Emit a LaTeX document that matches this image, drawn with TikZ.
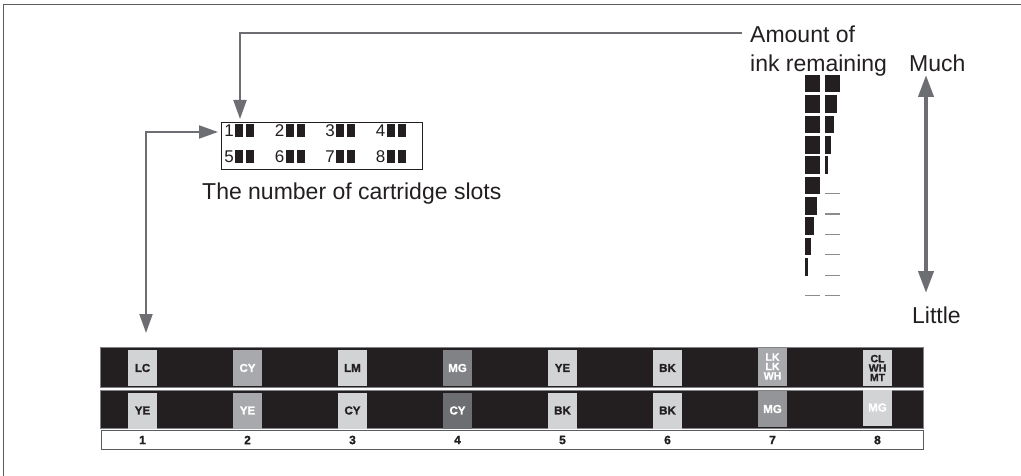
\documentclass[tikz,border=0pt]{standalone}
\usepackage{fontspec}
\setmainfont{Liberation Sans}
\newfontfamily\heavyfont[FakeBold=1.2]{Liberation Sans Bold}
\usetikzlibrary{arrows.meta}
\definecolor{ink}{HTML}{231F20}
\definecolor{linegray}{HTML}{6D6E71}
\definecolor{framegray}{HTML}{5A5B5E}
\definecolor{dashgray}{HTML}{8A8C8F}
\definecolor{lightbox}{HTML}{D1D3D4}
\definecolor{medbox}{HTML}{A7A9AC}
\definecolor{darkbox}{HTML}{808285}
\definecolor{darkerbox}{HTML}{6D6E71}
\definecolor{mgbox}{HTML}{939598}
\definecolor{textcol}{HTML}{231F20}
\tikzset{
  biglabel/.style={font=\fontsize{23}{29}\selectfont, text=textcol, inner sep=0pt},
  digit/.style={font=\fontsize{17}{17}\selectfont, text=textcol, inner sep=0pt},
  connone/.style={draw=linegray, line width=2pt, -{Triangle[length=19pt,width=13pt]}},
  conntwo/.style={draw=linegray, line width=2pt, {Triangle[length=19pt,width=13pt]}-{Triangle[length=19pt,width=13pt]}},
  gaugearrow/.style={draw=linegray, line width=4pt, {Triangle[length=22pt,width=15pt]}-{Triangle[length=22pt,width=15pt]}},
  barbox/.style={fill=ink, draw=darkbox, line width=1pt, anchor=north west, inner sep=0pt, minimum width=823pt},
  cbox/.style={minimum width=29pt, minimum height=36pt, inner sep=0pt, font=\fontsize{11.5}{11.5}\selectfont\heavyfont, align=center},
  cboxthree/.style={cbox, minimum height=38pt, font=\fontsize{10.5}{9.4}\selectfont\heavyfont},
  numlabel/.style={font=\fontsize{12}{12}\selectfont\heavyfont, text=textcol, inner sep=0pt}
}
\begin{document}
\begin{tikzpicture}[x=1pt,y=-1pt]
\useasboundingbox (0,0) rectangle (1021,476);
% frame
\draw[framegray, line width=1.6pt] (3.5,476) -- (3.5,4.5) -- (1021,4.5);

% labels
\node[biglabel, anchor=base west] (amount1) at (750,43) {Amount of};
\node[biglabel, anchor=base west] (amount2) at (750,72) {ink remaining};
\node[biglabel, anchor=base west] (much) at (909,72) {Much};
\node[biglabel, anchor=base west] (little) at (912,323) {Little};
\node[biglabel, anchor=base west] (slotcaption) at (202,200) {The number of cartridge slots};

% slot box
\node[draw=ink, line width=1.2pt, minimum width=201pt, minimum height=47pt, anchor=north west, inner sep=0pt] (slots) at (221,122) {};
\foreach \i/\dx in {1/0,2/50.5,3/101,4/151.5}{
  \node[digit] (d\i) at (229+\dx,130.5) {\i};
  \fill[ink] (235+\dx,124) rectangle (243+\dx,137);
  \fill[ink] (246+\dx,124) rectangle (254+\dx,137);
}
\foreach \i/\dx in {5/0,6/50.5,7/101,8/151.5}{
  \node[digit] (d\i) at (229+\dx,157) {\i};
  \fill[ink] (235+\dx,150) rectangle (243+\dx,163.5);
  \fill[ink] (246+\dx,150) rectangle (254+\dx,163.5);
}

% bars
\node[barbox, minimum height=40pt] (bar1) at (100,347) {};
\node[barbox, minimum height=38pt] (bar2) at (100,390) {};
\node[draw=framegray, fill=white, line width=1.2pt, anchor=north west, inner sep=0pt, minimum width=822pt, minimum height=19pt] (numrow) at (101,430) {};

% arrows
\coordinate (amtend) at ([xshift=-8pt,yshift=2pt]amount1.west);
\draw[connone] (amtend) -| ([xshift=19pt,yshift=3pt]slots.north west);
\draw[conntwo] ([xshift=46pt,yshift=14pt]bar1.north west) |- ([xshift=-3pt,yshift=-10pt]slots.north west);
\coordinate (gtop) at (926,75);
\coordinate (gbot) at (926,293);
\draw[gaugearrow] (gtop) -- (gbot);

% cartridge boxes row 1
\node[cbox, fill=lightbox, text=textcol] (r1c1) at (142.5,368) {LC};
\node[cbox, fill=medbox, text=white] (r1c2) at (247.5,368) {CY};
\node[cbox, fill=lightbox, text=textcol] (r1c3) at (352.5,368) {LM};
\node[cbox, fill=darkbox, text=white] (r1c4) at (457.5,368) {MG};
\node[cbox, fill=lightbox, text=textcol] (r1c5) at (562.5,368) {YE};
\node[cbox, fill=lightbox, text=textcol] (r1c6) at (667.5,368) {BK};
\node[cboxthree, fill=medbox, text=white] (r1c7) at (772.5,366.5) {LK\\LK\\WH};
\node[cboxthree, fill=lightbox, text=textcol, minimum height=36pt] (r1c8) at (877.5,368) {CL\\WH\\MT};
% row 2
\node[cbox, fill=lightbox, text=textcol] (r2c1) at (142.5,410.5) {YE};
\node[cbox, fill=medbox, text=white] (r2c2) at (247.5,410.5) {YE};
\node[cbox, fill=lightbox, text=textcol] (r2c3) at (352.5,410.5) {CY};
\node[cbox, fill=darkerbox, text=white] (r2c4) at (457.5,410.5) {CY};
\node[cbox, fill=lightbox, text=textcol] (r2c5) at (562.5,410.5) {BK};
\node[cbox, fill=lightbox, text=textcol] (r2c6) at (667.5,410.5) {BK};
\node[cbox, fill=mgbox, text=white] (r2c7) at (772.5,409) {MG};
\node[cbox, fill=lightbox, text=white] (r2c8) at (877.5,407.5) {MG};
% numbers
\foreach \i in {1,...,8}{
  \node[numlabel] (n\i) at ({142.5+105*(\i-1)},440) {\i};
}

% ink gauge
\foreach \k/\lw/\rw in {0/15/15,1/15/11.7,2/15/9,3/15/6,4/15/3,5/15/0,6/11.7/0,7/9/0,8/6/0,9/2.7/0,10/0/0}{
  \pgfmathsetmacro{\top}{75+20.35*\k}
  \ifdim\lw pt>0pt
    \fill[ink] (805,\top) rectangle (805+\lw,\top+17.5);
  \else
    \draw[dashgray, line width=1.3pt] (805,\top+17) -- (820,\top+17);
  \fi
  \ifdim\rw pt>0pt
    \fill[ink] (825,\top) rectangle (825+\rw,\top+17.5);
  \else
    \draw[dashgray, line width=1.3pt] (825,\top+17) -- (840,\top+17);
  \fi
}
\end{tikzpicture}
\end{document}
